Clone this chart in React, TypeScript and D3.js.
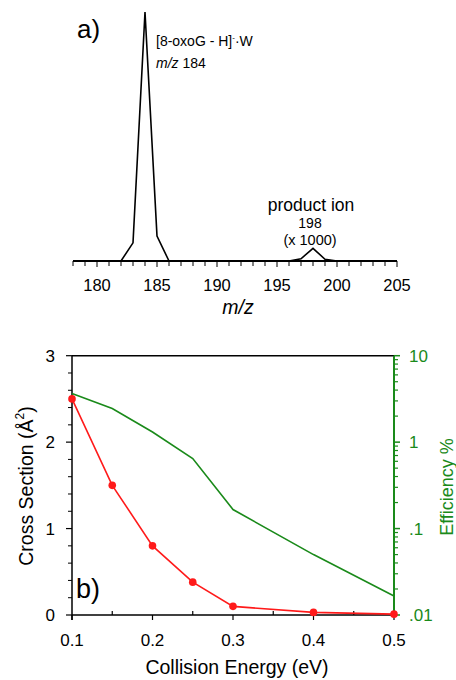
import React from "react";
import * as d3 from "d3";

// Panel a: mass spectrum
const mzValues = [178, 179, 180, 181, 182, 183, 184, 185, 186, 187, 188, 189, 190, 191, 192, 193, 194, 195, 196, 197, 198, 199, 200, 201, 202, 203, 204, 205];
const intensities = [0, 0, 0, 0, 0, 7.3, 100, 10, 0, 0, 0, 0, 0, 0, 0, 0, 0, 0, 0, 0.9, 5.1, 0.7, 0, 0, 0, 0, 0, 0];
const mzTickLabels = [180, 185, 190, 195, 200, 205];

// Panel b
const collisionEnergy = [0.1, 0.15, 0.2, 0.25, 0.3, 0.4, 0.5];
const crossSection = [2.5, 1.5, 0.8, 0.38, 0.1, 0.03, 0.01];
const efficiency = [3.66, 2.45, 1.31, 0.645, 0.166, 0.05, 0.0166];
const energyTicks = [0.1, 0.2, 0.3, 0.4, 0.5];
const energyMinorTicks = [0.15, 0.25, 0.35, 0.45];
const csTicks = [0, 1, 2, 3];
const effTicks = [10, 1, 0.1, 0.01];
const effTickLabels = ["10", "1", ".1", ".01"];

const FONT = "'Liberation Sans', Arial, Helvetica, sans-serif";
const GREEN = "#1a8a1a";
const RED = "#ff1a1a";

export default function App() {
  // Panel a scales
  const xA = d3.scaleLinear().domain([178, 205]).range([73, 397]);
  const yA = d3.scaleLinear().domain([0, 100]).range([261, 12]);
  const specLine = d3
    .line<number>()
    .x((_, i) => xA(mzValues[i]))
    .y((d) => yA(d));
  const mzMinor = d3.range(178, 206, 1);

  // Panel b scales
  const xB = d3.scaleLinear().domain([0.1, 0.5]).range([72, 394]);
  const yL = d3.scaleLinear().domain([0, 3]).range([615, 355.7]);
  const yR = d3.scaleLog().domain([0.01, 10]).range([615, 355.7]);
  const redLine = d3
    .line<number>()
    .x((_, i) => xB(collisionEnergy[i]))
    .y((d) => yL(d));
  const greenLine = d3
    .line<number>()
    .x((_, i) => xB(collisionEnergy[i]))
    .y((d) => yR(d));
  const csMinor = d3.range(0, 3.0001, 0.2).filter((v) => Math.abs(v - Math.round(v)) > 1e-6);
  const logMinor: number[] = [];
  [0.01, 0.1, 1].forEach((dec) => {
    for (let k = 2; k <= 9; k++) logMinor.push(dec * k);
  });

  return (
    <svg
      width={456}
      height={680}
      style={{ position: "absolute", left: 0, top: 0, background: "#fff" }}
      fontFamily={FONT}
    >
      {/* ---------- Panel a ---------- */}
      <text x={77} y={38} fontSize={26}>a)</text>
      <path d={specLine(intensities) || ""} fill="none" stroke="#000" strokeWidth={1.6} strokeLinejoin="miter" />
      <line x1={xA(178)} x2={xA(205)} y1={yA(0)} y2={yA(0)} stroke="#000" strokeWidth={2} />
      {mzMinor.map((v) => (
        <line key={"am" + v} x1={xA(v)} x2={xA(v)} y1={yA(0)} y2={yA(0) + (v % 5 === 0 ? 6 : 5)} stroke="#000" strokeWidth={1} />
      ))}
      {mzTickLabels.map((v) => (
        <text key={"al" + v} x={xA(v)} y={291} fontSize={16.5} textAnchor="middle">{v}</text>
      ))}
      <text x={238} y={314} fontSize={19.5} fontStyle="italic" textAnchor="middle">m/z</text>

      <text x={156} y={46} fontSize={14}>
        <tspan>[8-oxoG - H]</tspan>
        <tspan fontSize={8} dy={-6}>-</tspan>
        <tspan dy={6}>·W</tspan>
      </text>
      <text x={156} y={68} fontSize={14}>
        <tspan fontStyle="italic">m/z</tspan>
        <tspan> 184</tspan>
      </text>
      <text x={311} y={211} fontSize={17.5} textAnchor="middle">product ion</text>
      <text x={310} y={227.5} fontSize={14} textAnchor="middle">198</text>
      <text x={310} y={245} fontSize={14.5} textAnchor="middle">(x 1000)</text>

      {/* ---------- Panel b ---------- */}
      <line x1={xB(0.1)} x2={xB(0.5)} y1={yL(3)} y2={yL(3)} stroke="#000" strokeWidth={1.5} />
      <line x1={xB(0.1)} x2={xB(0.5)} y1={yL(0)} y2={yL(0)} stroke="#000" strokeWidth={1.5} />
      <line x1={xB(0.1)} x2={xB(0.1)} y1={yL(3)} y2={yL(0) + 5} stroke="#000" strokeWidth={1.5} />

      {energyTicks.map((v) => (
        <g key={"bx" + v}>
          <line x1={xB(v)} x2={xB(v)} y1={yL(0)} y2={yL(0) + 5} stroke="#000" strokeWidth={1.2} />
          <text x={xB(v)} y={646} fontSize={17} textAnchor="middle">{v.toFixed(1)}</text>
        </g>
      ))}
      {energyMinorTicks.map((v) => (
        <line key={"bxm" + v} x1={xB(v)} x2={xB(v)} y1={yL(0)} y2={yL(0) - 4} stroke="#000" strokeWidth={1.2} />
      ))}
      <text x={237} y={674} fontSize={19.5} textAnchor="middle">Collision Energy (eV)</text>

      {csTicks.map((v) => (
        <g key={"ly" + v}>
          <line x1={xB(0.1) - 6} x2={xB(0.1)} y1={yL(v)} y2={yL(v)} stroke="#000" strokeWidth={1.2} />
          <text x={55} y={yL(v)} dy="0.36em" fontSize={17} textAnchor="end">{v}</text>
        </g>
      ))}
      {csMinor.map((v) => (
        <line key={"lym" + v} x1={xB(0.1) - 4} x2={xB(0.1)} y1={yL(v)} y2={yL(v)} stroke="#000" strokeWidth={1} />
      ))}
      <text transform={`translate(33,486) rotate(-90)`} fontSize={19.5} textAnchor="middle">
        <tspan>Cross Section (Å</tspan>
        <tspan fontSize={12} dy={-9}>2</tspan>
        <tspan dy={9}>)</tspan>
      </text>

      <line x1={xB(0.5)} x2={xB(0.5)} y1={yR(10)} y2={yR(0.01)} stroke={GREEN} strokeWidth={2} />
      {effTicks.map((v, i) => (
        <g key={"ry" + v}>
          <line x1={xB(0.5)} x2={xB(0.5) + 6} y1={yR(v)} y2={yR(v)} stroke={GREEN} strokeWidth={1.5} />
          <text x={409} y={yR(v)} dy="0.36em" fontSize={17} fill={GREEN}>{effTickLabels[i]}</text>
        </g>
      ))}
      {logMinor.map((v) => (
        <line key={"rym" + v} x1={xB(0.5)} x2={xB(0.5) + 4} y1={yR(v)} y2={yR(v)} stroke={GREEN} strokeWidth={1.2} />
      ))}
      <text transform={`translate(453,487) rotate(-90)`} fontSize={18} textAnchor="middle" fill={GREEN}>Efficiency %</text>

      <path d={greenLine(efficiency) || ""} fill="none" stroke={GREEN} strokeWidth={1.6} />
      <path d={redLine(crossSection) || ""} fill="none" stroke={RED} strokeWidth={1.6} />
      {crossSection.map((v, i) => (
        <circle key={"rc" + i} cx={xB(collisionEnergy[i])} cy={yL(v)} r={3.8} fill={RED} />
      ))}

      <text x={76} y={598} fontSize={27}>b)</text>
    </svg>
  );
}
